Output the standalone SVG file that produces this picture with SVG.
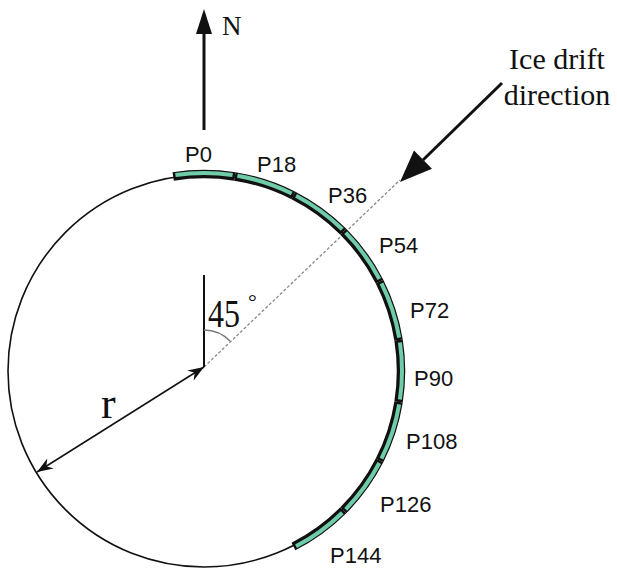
<svg xmlns="http://www.w3.org/2000/svg" xmlns:xlink="http://www.w3.org/1999/xlink" width="617" height="569" viewBox="0 0 617 569">
<style>
.lbl{font-family:"Liberation Sans",Arial,sans-serif;font-size:22px;fill:#111}
.serif{font-family:"Liberation Serif","Times New Roman",serif;fill:#111}
.pb{fill:none;stroke:#111;stroke-width:8.5}
.pg{fill:none;stroke:#6fcca8;stroke-width:4}
</style>
<defs>
<path id="arcB" d="M173.18,176.43 A197,197 0 0 1 234.82,176.43"/>
<path id="arcG" d="M175.42,175.07 A198,198 0 0 1 232.58,175.07"/>
<marker id="barb" viewBox="0 0 16 12" refX="16" refY="6" markerWidth="16" markerHeight="12" markerUnits="userSpaceOnUse" orient="auto-start-reverse">
<path d="M0,0 L16,6 L0,12 L5,6 z" fill="#111"/>
</marker>
</defs>
<rect width="617" height="569" fill="#fff"/>
<g id="circle">
<circle cx="204" cy="371" r="196" fill="none" stroke="#111" stroke-width="1.6"/>
</g>
<g id="connectors">
<line x1="204" y1="367" x2="400" y2="180" stroke="#888" stroke-width="1.3" stroke-dasharray="3,2"/>
<line x1="204" y1="275" x2="204" y2="367" stroke="#111" stroke-width="2"/>
<path d="M204,330 A37,37 0 0 1 230,341" fill="none" stroke="#777" stroke-width="1.3"/>
<line x1="204" y1="367" x2="37" y2="472" stroke="#111" stroke-width="1.5" marker-start="url(#barb)" marker-end="url(#barb)"/>
<line x1="204" y1="130" x2="204" y2="30" stroke="#111" stroke-width="3"/>
<polygon points="204,9 196,34 212,34" fill="#111"/>
<line x1="502" y1="83" x2="423" y2="160" stroke="#111" stroke-width="3"/>
<polygon points="400,182 432,168.8 414,150.5" fill="#111"/>
</g>
<g id="panels">
<g id="P0"><use xlink:href="#arcB" class="pb"/><use xlink:href="#arcG" class="pg"/><text class="lbl" x="185" y="162">P0</text></g>
<g id="P18"><g transform="rotate(18 204 371)"><use xlink:href="#arcB" class="pb"/><use xlink:href="#arcG" class="pg"/></g><text class="lbl" x="257" y="172">P18</text></g>
<g id="P36"><g transform="rotate(36 204 371)"><use xlink:href="#arcB" class="pb"/><use xlink:href="#arcG" class="pg"/></g><text class="lbl" x="328" y="203">P36</text></g>
<g id="P54"><g transform="rotate(54 204 371)"><use xlink:href="#arcB" class="pb"/><use xlink:href="#arcG" class="pg"/></g><text class="lbl" x="379" y="253">P54</text></g>
<g id="P72"><g transform="rotate(72 204 371)"><use xlink:href="#arcB" class="pb"/><use xlink:href="#arcG" class="pg"/></g><text class="lbl" x="410" y="318">P72</text></g>
<g id="P90"><g transform="rotate(90 204 371)"><use xlink:href="#arcB" class="pb"/><use xlink:href="#arcG" class="pg"/></g><text class="lbl" x="414" y="386">P90</text></g>
<g id="P108"><g transform="rotate(108 204 371)"><use xlink:href="#arcB" class="pb"/><use xlink:href="#arcG" class="pg"/></g><text class="lbl" x="406" y="449">P108</text></g>
<g id="P126"><g transform="rotate(126 204 371)"><use xlink:href="#arcB" class="pb"/><use xlink:href="#arcG" class="pg"/></g><text class="lbl" x="380" y="512">P126</text></g>
<g id="P144"><g transform="rotate(144 204 371)"><use xlink:href="#arcB" class="pb"/><use xlink:href="#arcG" class="pg"/></g><text class="lbl" x="330" y="563">P144</text></g>
</g>
<g id="labels">
<text class="serif" x="222" y="35" font-size="27">N</text>
<text class="serif" x="557" y="69" font-size="30" text-anchor="middle">Ice drift</text>
<text class="serif" x="557" y="105" font-size="30" text-anchor="middle">direction</text>
<text class="serif" x="208" y="327" font-size="40" textLength="32" lengthAdjust="spacingAndGlyphs">45</text>
<text class="serif" x="248" y="309" font-size="22">°</text>
<text class="serif" x="101" y="418" font-size="44">r</text>
</g>
</svg>
